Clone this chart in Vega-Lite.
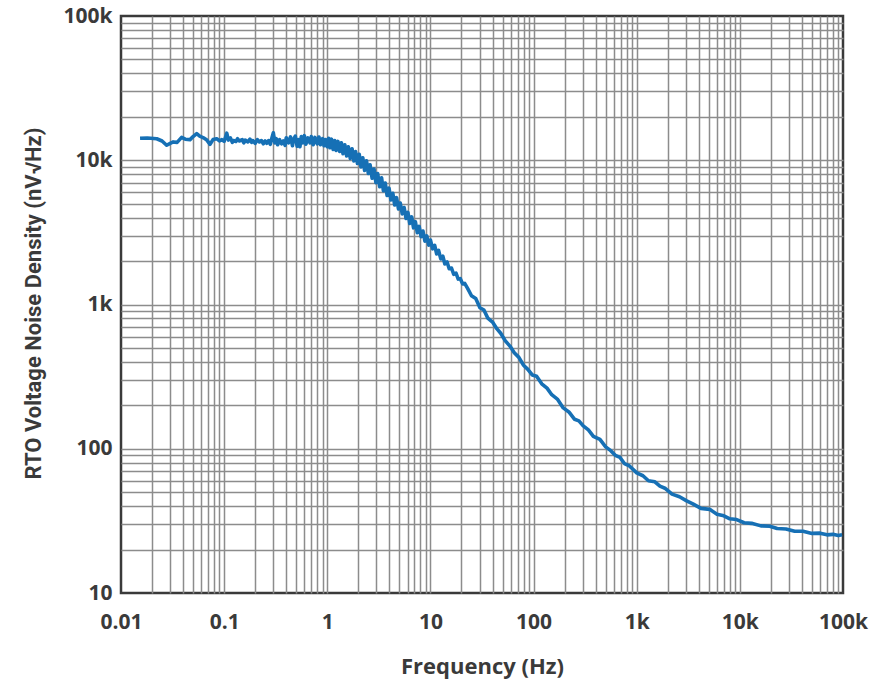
{
  "$schema": "https://vega.github.io/schema/vega-lite/v6.json",
  "width": 722,
  "height": 577,
  "autosize": {"type": "none"},
  "padding": {"left": 121, "top": 16, "right": 31, "bottom": 99},
  "background": "white",
  "config": {
    "view": {"stroke": "#3a3a3a", "strokeWidth": 2.5},
    "font": "Open Sans"
  },
  "data": {
    "values": [
      {"f": 0.0153, "v": 14200}, {"f": 0.018, "v": 14250}, {"f": 0.0222, "v": 14100}, {"f": 0.025, "v": 13600},
      {"f": 0.0277, "v": 12700}, {"f": 0.03, "v": 13100}, {"f": 0.0321, "v": 13400}, {"f": 0.035, "v": 13300},
      {"f": 0.0387, "v": 14400}, {"f": 0.042, "v": 14000}, {"f": 0.0467, "v": 13900}, {"f": 0.05, "v": 14600},
      {"f": 0.0542, "v": 15300}, {"f": 0.058, "v": 14700}, {"f": 0.063, "v": 14300}, {"f": 0.068, "v": 13800},
      {"f": 0.073, "v": 12900}, {"f": 0.078, "v": 13900}, {"f": 0.0847, "v": 14100}, {"f": 0.09, "v": 13600},
      {"f": 0.095, "v": 13900}, {"f": 0.1, "v": 13500}, {"f": 0.106, "v": 15400}, {"f": 0.11, "v": 13800},
      {"f": 0.115, "v": 14300}, {"f": 0.12, "v": 13300}, {"f": 0.123, "v": 13700}, {"f": 0.13, "v": 13500},
      {"f": 0.135, "v": 14100}, {"f": 0.14, "v": 13600}, {"f": 0.15, "v": 13900}, {"f": 0.155, "v": 13200},
      {"f": 0.16, "v": 13800}, {"f": 0.17, "v": 13400}, {"f": 0.178, "v": 14000}, {"f": 0.185, "v": 13300},
      {"f": 0.19, "v": 13700}, {"f": 0.2, "v": 13100}, {"f": 0.21, "v": 13900}, {"f": 0.22, "v": 13400},
      {"f": 0.23, "v": 13700}, {"f": 0.24, "v": 13000}, {"f": 0.25, "v": 13600}, {"f": 0.259, "v": 13100},
      {"f": 0.27, "v": 13700}, {"f": 0.28, "v": 12900}, {"f": 0.29, "v": 14200}, {"f": 0.3, "v": 15500},
      {"f": 0.31, "v": 13200}, {"f": 0.32, "v": 14100}, {"f": 0.33, "v": 12800}, {"f": 0.345, "v": 13900},
      {"f": 0.36, "v": 13000}, {"f": 0.375, "v": 13600}, {"f": 0.39, "v": 12700}, {"f": 0.4, "v": 14300},
      {"f": 0.42, "v": 13200}, {"f": 0.44, "v": 14500}, {"f": 0.46, "v": 12600}, {"f": 0.468, "v": 13800},
      {"f": 0.49, "v": 14700}, {"f": 0.51, "v": 12500}, {"f": 0.53, "v": 13900}, {"f": 0.543, "v": 12400},
      {"f": 0.56, "v": 14600}, {"f": 0.58, "v": 13200}, {"f": 0.6, "v": 14800}, {"f": 0.62, "v": 12900},
      {"f": 0.65, "v": 14300}, {"f": 0.68, "v": 13200}, {"f": 0.7, "v": 14600}, {"f": 0.73, "v": 12800},
      {"f": 0.76, "v": 14400}, {"f": 0.8, "v": 13000}, {"f": 0.83, "v": 14500}, {"f": 0.86, "v": 12800},
      {"f": 0.9, "v": 14100}, {"f": 0.93, "v": 12600}, {"f": 0.96, "v": 13900}, {"f": 1.0, "v": 12400},
      {"f": 1.03, "v": 14200}, {"f": 1.06, "v": 12200}, {"f": 1.1, "v": 14000}, {"f": 1.14, "v": 11900},
      {"f": 1.18, "v": 13700}, {"f": 1.22, "v": 11700}, {"f": 1.27, "v": 13500}, {"f": 1.32, "v": 11500},
      {"f": 1.37, "v": 13200}, {"f": 1.42, "v": 11100}, {"f": 1.48, "v": 12800}, {"f": 1.54, "v": 10700},
      {"f": 1.6, "v": 12400}, {"f": 1.67, "v": 10300}, {"f": 1.74, "v": 12000}, {"f": 1.81, "v": 9900},
      {"f": 1.88, "v": 11500}, {"f": 1.96, "v": 9500}, {"f": 2.04, "v": 11000}, {"f": 2.12, "v": 9000},
      {"f": 2.21, "v": 10400}, {"f": 2.3, "v": 8500}, {"f": 2.4, "v": 9900}, {"f": 2.5, "v": 8100},
      {"f": 2.6, "v": 9300}, {"f": 2.72, "v": 7500}, {"f": 2.84, "v": 8700}, {"f": 2.96, "v": 7000},
      {"f": 3.08, "v": 8100}, {"f": 3.22, "v": 6550}, {"f": 3.36, "v": 7550}, {"f": 3.5, "v": 6150},
      {"f": 3.65, "v": 6950}, {"f": 3.8, "v": 5700}, {"f": 3.97, "v": 6400}, {"f": 4.14, "v": 5300},
      {"f": 4.32, "v": 5900}, {"f": 4.5, "v": 4900}, {"f": 4.7, "v": 5500}, {"f": 4.9, "v": 4600},
      {"f": 5.1, "v": 5050}, {"f": 5.33, "v": 4250}, {"f": 5.56, "v": 4700}, {"f": 5.8, "v": 3950},
      {"f": 6.05, "v": 4350}, {"f": 6.3, "v": 3650}, {"f": 6.58, "v": 4050}, {"f": 6.86, "v": 3400},
      {"f": 7.15, "v": 3750}, {"f": 7.46, "v": 3150}, {"f": 7.78, "v": 3480}, {"f": 8.12, "v": 2950},
      {"f": 8.47, "v": 3230}, {"f": 8.84, "v": 2750}, {"f": 9.22, "v": 2990}, {"f": 9.62, "v": 2580},
      {"f": 10.0, "v": 2800}, {"f": 10.5, "v": 2430}, {"f": 11, "v": 2570}, {"f": 11.5, "v": 2240},
      {"f": 12, "v": 2370}, {"f": 12.6, "v": 2070}, {"f": 13.2, "v": 2160}, {"f": 13.8, "v": 1910},
      {"f": 14.5, "v": 1970}, {"f": 15.2, "v": 1770}, {"f": 16, "v": 1790}, {"f": 16.8, "v": 1620},
      {"f": 17.7, "v": 1650}, {"f": 18.6, "v": 1500}, {"f": 19.5, "v": 1510}, {"f": 20.5, "v": 1390},
      {"f": 21.5, "v": 1400}, {"f": 23, "v": 1290}, {"f": 25, "v": 1150}, {"f": 27.5, "v": 1100},
      {"f": 30.2, "v": 950}, {"f": 33, "v": 915}, {"f": 36, "v": 805}, {"f": 40, "v": 755},
      {"f": 44, "v": 680}, {"f": 48, "v": 632}, {"f": 53, "v": 562}, {"f": 59, "v": 515},
      {"f": 65, "v": 463}, {"f": 72, "v": 430}, {"f": 80, "v": 379}, {"f": 88, "v": 355},
      {"f": 97, "v": 325}, {"f": 107, "v": 318}, {"f": 120, "v": 282}, {"f": 135, "v": 263},
      {"f": 150, "v": 237}, {"f": 170, "v": 221}, {"f": 194, "v": 192}, {"f": 220, "v": 180},
      {"f": 250, "v": 160}, {"f": 275, "v": 156}, {"f": 303, "v": 144}, {"f": 340, "v": 135},
      {"f": 380, "v": 122}, {"f": 440, "v": 116}, {"f": 500, "v": 103}, {"f": 560, "v": 97},
      {"f": 620, "v": 90}, {"f": 689, "v": 87}, {"f": 760, "v": 79}, {"f": 850, "v": 76},
      {"f": 1000, "v": 68}, {"f": 1150, "v": 65}, {"f": 1300, "v": 60}, {"f": 1500, "v": 59},
      {"f": 1680, "v": 55}, {"f": 1900, "v": 53}, {"f": 2200, "v": 48.5}, {"f": 2600, "v": 46.5},
      {"f": 3050, "v": 43.5}, {"f": 3500, "v": 41.5}, {"f": 4200, "v": 38.6}, {"f": 5100, "v": 38},
      {"f": 6000, "v": 35.2}, {"f": 7000, "v": 34.3}, {"f": 8000, "v": 32.7}, {"f": 9300, "v": 32.3},
      {"f": 11000, "v": 30.7}, {"f": 13000, "v": 30.4}, {"f": 16000, "v": 29.2}, {"f": 19500, "v": 29},
      {"f": 23000, "v": 28}, {"f": 28000, "v": 27.8}, {"f": 34000, "v": 26.8}, {"f": 41000, "v": 26.8},
      {"f": 50000, "v": 25.9}, {"f": 60000, "v": 26}, {"f": 70000, "v": 25.3}, {"f": 80000, "v": 25.5},
      {"f": 90000, "v": 25}, {"f": 98000, "v": 25.3}
    ]
  },
  "mark": {"type": "line", "color": "#1670b5", "strokeWidth": 3.6, "strokeJoin": "round"},
  "encoding": {
    "x": {
      "field": "f",
      "type": "quantitative",
      "scale": {"type": "log", "domain": [0.01, 100000], "nice": false},
      "axis": {
        "values": [0.01,0.02,0.03,0.04,0.05,0.06,0.07,0.08,0.09,0.1,0.2,0.3,0.4,0.5,0.6,0.7,0.8,0.9,1,2,3,4,5,6,7,8,9,10,20,30,40,50,60,70,80,90,100,200,300,400,500,600,700,800,900,1000,2000,3000,4000,5000,6000,7000,8000,9000,10000,20000,30000,40000,50000,60000,70000,80000,90000,100000],
        "labelExpr": "datum.value == 0.01 ? '0.01' : datum.value == 0.1 ? '0.1' : datum.value == 1 ? '1' : datum.value == 10 ? '10' : datum.value == 100 ? '100' : datum.value == 1000 ? '1k' : datum.value == 10000 ? '10k' : datum.value == 100000 ? '100k' : ''",
        "grid": true,
        "gridColor": {"condition": {"test": "datum.value == 0.01 || datum.value == 100000", "value": "transparent"}, "value": "#8c8c8c"},
        "gridWidth": 1.5,
        "domain": false,
        "ticks": false,
        "tickSize": 0,
        "labelOverlap": false,
        "labelFlush": false,
        "labelBound": false,
        "labelPadding": 18,
        "labelFontSize": 21,
        "labelFontWeight": "bold",
        "labelColor": "#3a3a3a",
        "title": "Frequency (Hz)",
        "titleFontSize": 22,
        "titleFontWeight": "bold",
        "titleColor": "#3a3a3a",
        "titleBaseline": "middle",
        "titleX": 361,
        "titleY": 73
      }
    },
    "y": {
      "field": "v",
      "type": "quantitative",
      "scale": {"type": "log", "domain": [10, 100000], "nice": false},
      "axis": {
        "values": [10,20,30,40,50,60,70,80,90,100,200,300,400,500,600,700,800,900,1000,2000,3000,4000,5000,6000,7000,8000,9000,10000,20000,30000,40000,50000,60000,70000,80000,90000,100000],
        "labelExpr": "datum.value == 10 ? '10' : datum.value == 100 ? '100' : datum.value == 1000 ? '1k' : datum.value == 10000 ? '10k' : datum.value == 100000 ? '100k' : ''",
        "grid": true,
        "gridColor": {"condition": {"test": "datum.value == 10 || datum.value == 100000", "value": "transparent"}, "value": "#8c8c8c"},
        "gridWidth": 1.5,
        "domain": false,
        "ticks": false,
        "tickSize": 0,
        "labelOverlap": false,
        "labelFlush": false,
        "labelBound": false,
        "labelPadding": 9,
        "labelFontSize": 21,
        "labelFontWeight": "bold",
        "labelColor": "#3a3a3a",
        "title": "RTO Voltage Noise Density (nV√Hz)",
        "titleFont": "Roboto",
        "titleFontSize": 22,
        "titleFontWeight": "bold",
        "titleColor": "#3a3a3a",
        "titleBaseline": "middle",
        "titleAngle": -90,
        "titleX": -88,
        "titleY": 287
      }
    }
  }
}
